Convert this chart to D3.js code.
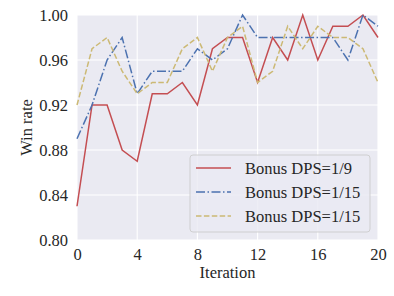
<!DOCTYPE html>
<html>
<head>
<meta charset="utf-8">
<script src="https://cdn.jsdelivr.net/npm/d3@7"></script>
<style>
body{margin:0;background:#fff;}
svg{display:block;font-family:"Liberation Serif","Times New Roman",serif;}
</style>
</head>
<body>
<script>
// data
var iterations=d3.range(0,21);
var dps9 =[0.83,0.92,0.92,0.88,0.87,0.93,0.93,0.94,0.92,0.97,0.98,0.98,0.94,0.98,0.96,1.00,0.96,0.99,0.99,1.00,0.98];
var dps15a=[0.89,0.92,0.96,0.98,0.93,0.95,0.95,0.95,0.97,0.96,0.97,1.00,0.98,0.98,0.98,0.98,0.98,0.98,0.96,1.00,0.99];
var dps15b=[0.92,0.97,0.98,0.95,0.93,0.94,0.94,0.97,0.98,0.95,0.98,0.99,0.94,0.95,0.99,0.97,0.99,0.98,0.98,0.97,0.94];
var seriesNames=["Bonus DPS=1/9","Bonus DPS=1/15","Bonus DPS=1/15"];
var xTicks=[0,4,8,12,16,20];
var yTicks=[0.80,0.84,0.88,0.92,0.96,1.00];

var W=394,H=296;
var pl=77,pr=378,pt=15,pb=240;

var svg=d3.select("body").append("svg")
  .attr("width",W)
  .attr("height",H);

var x=d3.scaleLinear().domain([0,20]).range([pl,pr]);
var y=d3.scaleLinear().domain([0.80,1.00]).range([pb,pt]);

//background
svg.append("rect")
  .attr("x",pl).attr("y",pt)
  .attr("width",pr-pl).attr("height",pb-pt)
  .attr("fill","#EAEAF2");

//grid
svg.selectAll(".gx").data(xTicks).enter().append("line")
  .attr("x1",d=>x(d)).attr("x2",d=>x(d))
  .attr("y1",pt).attr("y2",pb)
  .attr("stroke","#fff").attr("stroke-width",1.1);
svg.selectAll(".gy").data(yTicks).enter().append("line")
  .attr("y1",d=>y(d)).attr("y2",d=>y(d))
  .attr("x1",pl).attr("x2",pr)
  .attr("stroke","#fff").attr("stroke-width",1.1);

//axes (labels only)
var xa=svg.append("g").attr("transform","translate(0,"+pb+")")
  .call(d3.axisBottom(x).tickValues(xTicks).tickFormat(d3.format("d")).tickSize(0).tickPadding(8));
var ya=svg.append("g").attr("transform","translate("+pl+",0)")
  .call(d3.axisLeft(y).tickValues(yTicks).tickFormat(d3.format(".2f")).tickSize(0).tickPadding(9));
[xa,ya].forEach(function(a){
  a.select(".domain").remove();
  a.selectAll("text").style("font-size","16.5px").attr("fill","#262626")
   .style("font-family","'Liberation Serif',serif");
});

svg.append("text")
  .attr("x",(pl+pr)/2).attr("y",278)
  .attr("text-anchor","middle")
  .style("font-size","16.5px").attr("fill","#262626")
  .text("Iteration");
svg.append("text")
  .attr("transform","translate(32,"+((pt+pb)/2)+") rotate(-90)")
  .attr("text-anchor","middle")
  .style("font-size","16.5px").attr("fill","#262626")
  .text("Win rate");

//lines
var styles=[
  {data:dps9,color:"#C44E52",dash:null},
  {data:dps15a,color:"#4C72B0",dash:"9,2.5,1.5,2.5"},
  {data:dps15b,color:"#CCB974",dash:"5.5,2.4"}
];
var line=d3.line().x((d,i)=>x(iterations[i])).y(d=>y(d));
var plot=svg.append("g");
styles.forEach(function(s){
  plot.append("path")
    .attr("d",line(s.data))
    .attr("fill","none")
    .attr("stroke",s.color)
    .attr("stroke-width",1.5)
    .attr("stroke-dasharray",s.dash);
});

//legend
var lg=svg.append("g");
lg.append("rect")
  .attr("x",190).attr("y",155).attr("width",180).attr("height",77)
  .attr("rx",3)
  .attr("fill","#EAEAF2").attr("fill-opacity",0.8)
  .attr("stroke","#CCCCCC").attr("stroke-width",0.9);
seriesNames.forEach(function(n,i){
  var yy=168+i*24;
  lg.append("line")
    .attr("x1",196).attr("x2",231).attr("y1",yy).attr("y2",yy)
    .attr("stroke",styles[i].color).attr("stroke-width",1.5)
    .attr("stroke-dasharray",styles[i].dash);
  lg.append("text")
    .attr("x",245).attr("y",yy).attr("dy","0.35em")
    .style("font-size","16.5px").attr("fill","#262626")
    .text(n);
});
</script>
</body>
</html>
